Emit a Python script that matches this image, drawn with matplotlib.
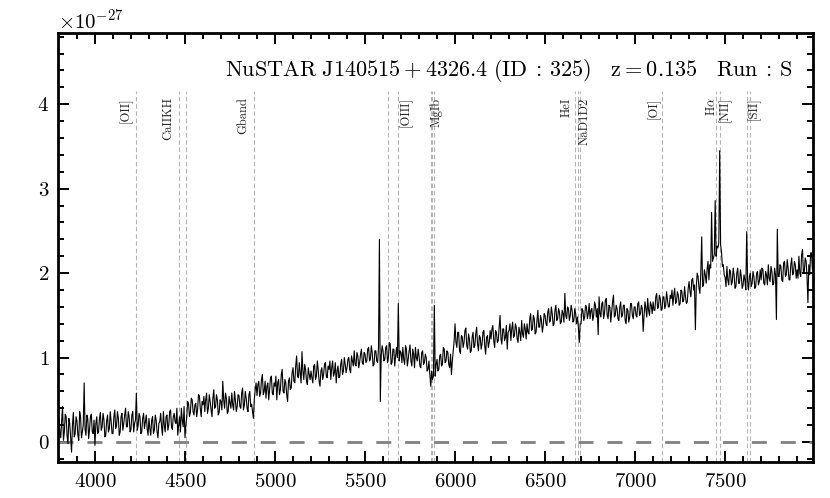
import numpy as np
import matplotlib
matplotlib.use("Agg")
import matplotlib.pyplot as plt

plt.rcParams['font.family'] = 'serif'
plt.rcParams['font.serif'] = ['cmr10', 'DejaVu Serif']
plt.rcParams['mathtext.fontset'] = 'cm'
plt.rcParams['axes.formatter.use_mathtext'] = True

# spectrum, flux in units of 1e-27, one value every 5 A starting at 3800 A
wave_start = 3800
wave_step = 5
flux = [
    0.28, 0.12, 0.05, 0.25, 0.42, 0.02, 0.12, 0.33, 0.30, 0.08, -0.02, 0.28, 0.22, 0.05, -0.12, 0.20, 0.35, 0.06, 0.10, 0.30,  # 3800
    0.25, 0.08, 0.02, 0.36, 0.30, 0.05, 0.12, 0.20, 0.70, 0.15, 0.08, 0.32, 0.28, 0.04, 0.15, 0.30, 0.33, 0.12, 0.10, 0.26,  # 3900
    -0.04, 0.22, 0.30, 0.10, 0.12, 0.28, 0.35, 0.14, 0.18, 0.34, 0.26, 0.06, 0.08, 0.25, 0.32, 0.12, 0.16, 0.36, 0.24, 0.10,  # 4000
    0.10, 0.30, 0.38, 0.16, 0.20, 0.36, 0.28, 0.08, 0.12, 0.30, 0.34, 0.14, 0.22, 0.32, 0.40, 0.18, 0.18, 0.36, 0.30, 0.12,  # 4100
    0.15, 0.32, 0.36, 0.12, 0.22, 0.26, 0.58, 0.14, 0.20, 0.34, 0.30, 0.10, 0.12, 0.28, 0.34, 0.16, 0.24, 0.32, 0.16, 0.08,  # 4200
    0.28, 0.16, 0.08, 0.26, 0.30, 0.10, 0.14, 0.32, 0.26, 0.12, 0.05, 0.22, 0.24, 0.34, 0.18, 0.08, 0.36, 0.20, 0.12, 0.30,  # 4300
    0.32, 0.14, 0.20, 0.36, 0.38, 0.18, 0.15, 0.30, 0.34, 0.24, 0.22, 0.40, 0.08, 0.20, 0.30, 0.12, 0.40, 0.26, 0.18, 0.42,  # 4400
    0.05, 0.20, 0.30, 0.48, 0.45, 0.30, 0.35, 0.52, 0.50, 0.36, 0.32, 0.44, 0.46, 0.30, 0.38, 0.56, 0.55, 0.40, 0.30, 0.48,  # 4500
    0.44, 0.54, 0.36, 0.50, 0.58, 0.34, 0.40, 0.56, 0.48, 0.38, 0.30, 0.52, 0.62, 0.40, 0.42, 0.56, 0.50, 0.32, 0.35, 0.50,  # 4600
    0.48, 0.38, 0.72, 0.50, 0.40, 0.58, 0.52, 0.34, 0.36, 0.54, 0.46, 0.40, 0.58, 0.44, 0.38, 0.60, 0.50, 0.36, 0.42, 0.56,  # 4700
    0.55, 0.42, 0.40, 0.58, 0.64, 0.38, 0.44, 0.60, 0.52, 0.40, 0.36, 0.56, 0.60, 0.42, 0.45, 0.36, 0.28, 0.50, 0.62, 0.70,  # 4800
    0.55, 0.68, 0.72, 0.54, 0.58, 0.74, 0.80, 0.56, 0.60, 0.72, 0.52, 0.66, 0.70, 0.50, 0.62, 0.76, 0.78, 0.58, 0.56, 0.70,  # 4900
    0.66, 0.78, 0.50, 0.70, 0.74, 0.56, 0.62, 0.80, 0.86, 0.60, 0.58, 0.74, 0.70, 0.56, 0.48, 0.72, 0.76, 0.62, 0.64, 0.82,  # 5000
    0.88, 0.72, 0.70, 0.90, 1.02, 0.78, 0.76, 0.94, 0.82, 0.70, 1.07, 0.84, 0.74, 0.92, 0.86, 0.72, 0.68, 0.88, 0.80, 0.74,  # 5100
    0.84, 0.76, 0.70, 0.90, 0.92, 0.74, 0.78, 0.96, 0.86, 0.72, 0.66, 0.84, 0.88, 0.74, 0.80, 0.92, 0.94, 0.78, 0.76, 0.90,  # 5200
    0.86, 0.96, 0.74, 0.88, 0.96, 0.78, 0.82, 0.94, 0.70, 0.84, 0.90, 0.76, 0.78, 0.92, 0.98, 0.80, 0.84, 1.00, 0.92, 0.82,  # 5300
    0.88, 0.98, 1.00, 0.86, 0.82, 1.02, 0.96, 0.90, 1.08, 0.92, 0.90, 1.06, 1.02, 0.88, 0.94, 1.04, 1.10, 0.94, 0.92, 1.06,  # 5400
    1.04, 0.94, 0.96, 1.10, 1.12, 0.96, 0.98, 1.14, 1.06, 0.90, 0.92, 1.08, 1.08, 0.96, 0.94, 1.12, 2.40, 0.48, 1.02, 1.14,  # 5500
    1.08, 0.96, 0.98, 1.12, 1.14, 0.94, 1.00, 1.18, 1.16, 0.92, 0.94, 1.10, 1.10, 0.90, 1.02, 1.12, 1.00, 1.64, 0.96, 1.08,  # 5600
    1.06, 0.94, 1.12, 0.98, 0.92, 1.14, 1.10, 0.90, 0.98, 1.08, 1.15, 0.96, 0.90, 1.10, 1.04, 0.88, 1.12, 1.00, 0.96, 1.10,  # 5700
    1.02, 0.90, 0.88, 1.06, 1.08, 0.92, 0.94, 1.04, 1.00, 0.84, 0.86, 0.96, 0.80, 0.66, 0.84, 0.74, 0.78, 1.62, 0.78, 0.92,  # 5800
    0.98, 0.84, 0.86, 1.02, 1.04, 0.90, 0.92, 1.12, 1.10, 0.94, 0.96, 1.08, 1.06, 0.92, 0.88, 1.04, 0.80, 0.96, 1.08, 1.20,  # 5900
    1.40, 1.18, 1.12, 1.30, 1.30, 1.08, 1.05, 1.26, 1.25, 1.12, 1.18, 1.32, 1.35, 1.14, 1.10, 1.28, 1.22, 1.06, 1.08, 1.24,  # 6000
    1.30, 1.12, 1.14, 1.28, 1.36, 1.16, 1.08, 1.26, 1.24, 1.10, 1.16, 1.30, 1.32, 1.14, 1.04, 1.24, 1.26, 1.12, 1.18, 1.32,  # 6100
    1.22, 1.34, 1.38, 1.20, 1.12, 1.32, 1.30, 1.18, 1.20, 1.36, 1.50, 1.22, 1.16, 1.34, 1.34, 1.20, 1.24, 1.38, 1.10, 1.30,  # 6200
    1.32, 1.40, 1.20, 1.34, 1.42, 1.24, 1.26, 1.40, 1.36, 1.22, 1.18, 1.36, 1.30, 1.20, 1.44, 1.28, 1.24, 1.40, 1.34, 1.22,  # 6300
    1.40, 1.30, 1.28, 1.46, 1.52, 1.32, 1.34, 1.50, 1.46, 1.28, 1.30, 1.44, 1.56, 1.36, 1.36, 1.50, 1.44, 1.30, 1.38, 1.52,  # 6400
    1.50, 1.40, 1.38, 1.54, 1.58, 1.42, 1.44, 1.60, 1.52, 1.38, 1.40, 1.56, 1.62, 1.44, 1.46, 1.58, 1.54, 1.40, 1.42, 1.56,  # 6500
    1.52, 1.42, 1.76, 1.50, 1.46, 1.60, 1.58, 1.44, 1.50, 1.62, 1.56, 1.42, 1.44, 1.58, 1.52, 1.40, 1.48, 1.36, 1.18, 1.40,  # 6600
    1.40, 1.58, 1.56, 1.44, 1.48, 1.62, 1.60, 1.46, 1.52, 1.64, 1.46, 1.56, 1.58, 1.44, 1.50, 1.66, 1.62, 1.48, 1.58, 1.27,  # 6700
    1.72, 1.52, 1.48, 1.64, 1.66, 1.46, 1.52, 1.68, 1.70, 1.50, 1.46, 1.62, 1.60, 1.42, 1.54, 1.66, 1.74, 1.48, 1.50, 1.62,  # 6800
    1.58, 1.46, 1.44, 1.60, 1.66, 1.48, 1.50, 1.62, 1.62, 1.44, 1.40, 1.58, 1.56, 1.42, 1.48, 1.64, 1.64, 1.50, 1.46, 1.60,  # 6900
    1.60, 1.50, 1.48, 1.64, 1.66, 1.50, 1.52, 1.62, 1.58, 1.31, 1.50, 1.66, 1.58, 1.48, 1.70, 1.56, 1.50, 1.66, 1.62, 1.52,  # 7000
    1.66, 1.56, 1.56, 1.72, 1.76, 1.58, 1.60, 1.74, 1.70, 1.56, 1.58, 1.72, 1.72, 1.58, 1.62, 1.78, 1.68, 1.60, 1.60, 1.74,  # 7100
    1.70, 1.80, 1.62, 1.74, 1.82, 1.64, 1.66, 1.78, 1.74, 1.62, 1.64, 1.80, 1.78, 1.66, 1.68, 1.84, 1.72, 1.64, 1.66, 1.82,  # 7200
    1.90, 1.78, 1.72, 1.92, 1.94, 1.80, 1.86, 1.33, 1.84, 2.00, 1.96, 1.82, 1.76, 2.00, 2.43, 1.84, 1.86, 2.04, 1.98, 1.88,  # 7300
    2.04, 2.14, 1.92, 2.10, 2.06, 2.72, 2.14, 2.18, 2.22, 2.86, 2.20, 2.32, 2.30, 2.36, 3.45, 2.34, 2.25, 2.08, 2.10, 1.98,  # 7400
    1.95, 1.84, 2.08, 1.92, 1.86, 2.04, 2.02, 1.86, 1.90, 2.06, 1.98, 1.82, 1.84, 2.00, 2.06, 1.88, 1.88, 2.04, 1.96, 1.82,  # 7500
    1.86, 1.98, 1.92, 1.80, 2.49, 1.90, 1.80, 1.96, 2.00, 1.84, 1.88, 2.02, 1.96, 1.82, 1.84, 2.00, 2.02, 1.86, 1.90, 2.04,  # 7600
    1.92, 2.06, 2.04, 1.88, 1.86, 2.02, 1.98, 1.86, 2.10, 1.94, 1.90, 2.08, 2.02, 1.86, 1.88, 2.06, 1.98, 1.45, 2.52, 1.96,  # 7700
    1.96, 2.10, 2.08, 1.92, 1.90, 2.12, 2.14, 1.96, 1.98, 2.16, 2.06, 1.92, 1.92, 2.10, 2.18, 1.98, 2.00, 2.14, 2.10, 1.94,  # 7800
    2.04, 1.94, 2.20, 2.00, 1.96, 2.22, 2.28, 2.00, 2.02, 2.18, 2.14, 1.96, 1.65, 2.10, 1.98, 2.24, 2.24, 2.04, 2.20, 2.10,  # 7900
]
flux_unit = 1e-27

# line markers (observed wavelengths, z = 0.135)
line_waves = [4230, 4465, 4505, 4885, 5628, 5683, 5865, 5871, 5884,
              6669, 6685, 6692, 7151, 7449, 7472, 7624, 7640]
label_names = ['[OII]', 'CaIIKH', 'Gband', '[OIII]', 'MgIb', 'HeI',
               'NaD1D2', '[OI]', r'H$\alpha$', '[NII]', '[SII]']
label_waves = [4172, 4407, 4824, 5726, 5894, 6620, 6722, 7106, 7426, 7500, 7661]

title = (r'$\mathrm{NuSTAR\ J140515} + \mathrm{4326.4\ (ID}\:\mathrm{:}\:\mathrm{325)}'
         r'\quad \mathrm{z} = \mathrm{0.135}\quad \mathrm{Run}\:\mathrm{:}\:\mathrm{S}$')

wave = wave_start + wave_step * np.arange(len(flux))
flux = np.array(flux) * flux_unit

fig = plt.figure(figsize=(8.3, 4.98), dpi=100)
ax = fig.add_axes([0.0695, 0.0717, 0.9104, 0.8614])

ymin, ymax = -0.24 * flux_unit, 4.84 * flux_unit
ax.vlines(line_waves, ymin, 4.16 * flux_unit, colors='#b5b5b5',
          linestyles=(0, (4, 2.5)), lw=0.8, zorder=1)
for name, lw_ in zip(label_names, label_waves):
    ax.text(lw_, 4.08 * flux_unit, name, rotation=90, ha='center', va='top',
            fontsize=9, color='0.15')

ax.axhline(0, color='#808080', lw=2, dashes=(5.4, 5.0), zorder=2)
ax.plot(wave, flux, color='k', lw=0.8, zorder=3)

ax.text(0.973, 0.914, title, transform=ax.transAxes, ha='right', va='center',
        fontsize=16)

ax.set_xlim(3793, 7990)
ax.set_ylim(ymin, ymax)
ax.set_xticks([4000, 4500, 5000, 5500, 6000, 6500, 7000, 7500])
ax.xaxis.set_minor_locator(matplotlib.ticker.MultipleLocator(100))
ax.yaxis.set_major_locator(matplotlib.ticker.MultipleLocator(1e-27))
ax.yaxis.set_minor_locator(matplotlib.ticker.MultipleLocator(0.2e-27))

ax.tick_params(which='both', direction='in', top=True, right=True,
               labelsize=15, width=1.4)
ax.tick_params(which='major', length=8)
ax.tick_params(which='minor', length=4.5)
ax.tick_params(axis='x', which='major', pad=8)
ax.tick_params(axis='y', which='major', pad=6)
for s in ax.spines.values():
    s.set_linewidth(2)
ax.yaxis.get_offset_text().set_fontsize(15)
ax.xaxis.get_offset_text().set_visible(False)

fig.savefig('out.png', dpi=100)
